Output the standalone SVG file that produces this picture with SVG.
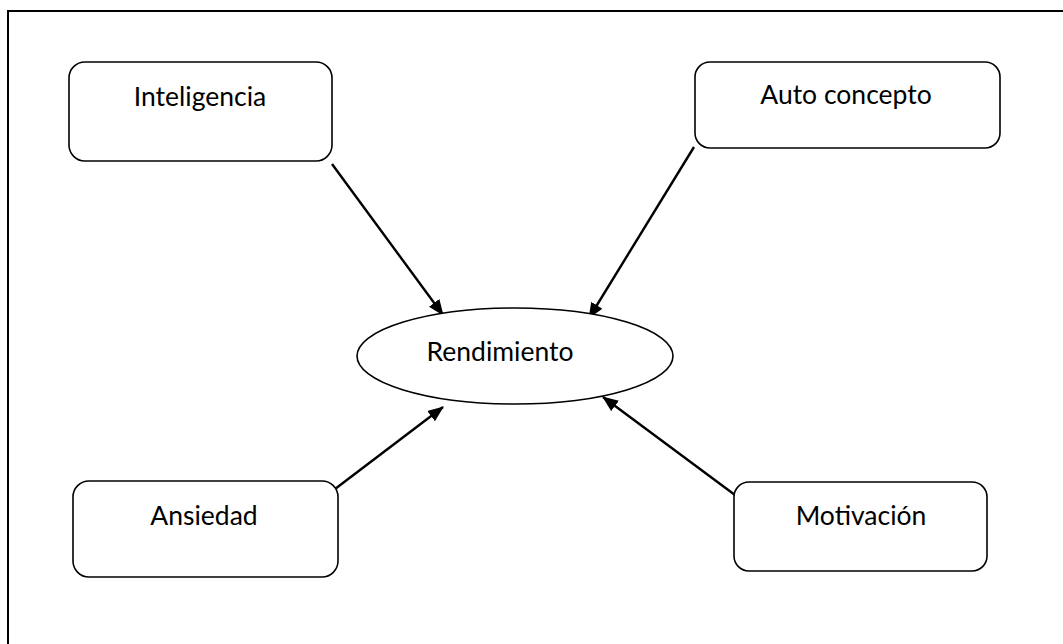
<svg xmlns="http://www.w3.org/2000/svg" width="1063" height="644" viewBox="0 0 1063 644">
<style>
.box{fill:#fff;stroke:#000;stroke-width:1.6}
.lbl{font-family:Lato,"Open Sans",sans-serif;font-size:26.5px;fill:#000;text-anchor:middle}
.conn{stroke:#000;stroke-width:2.4;fill:none;marker-end:url(#ah)}
</style>
<defs>
<marker id="ah" markerWidth="16" markerHeight="13" refX="15" refY="6.5" orient="auto" markerUnits="userSpaceOnUse" viewBox="0 0 16 13">
<path d="M0,0 L16,6.5 L0,13 Z" fill="#000"/>
</marker>
</defs>
<rect width="1063" height="644" fill="#fff"/>
<path d="M8,700 L8,11 L1100,11" fill="none" stroke="#000" stroke-width="2"/>
<g id="connectors">
<line class="conn" x1="332" y1="164" x2="443" y2="315"/>
<line class="conn" x1="694" y1="147" x2="589" y2="318"/>
<line class="conn" x1="335" y1="489" x2="443" y2="407"/>
<line class="conn" x1="735" y1="495" x2="603" y2="397"/>
</g>
<g id="inteligencia">
<rect class="box" x="69" y="62" width="263" height="99" rx="16"/>
<text class="lbl" x="200" y="106">Inteligencia</text>
</g>
<g id="autoconcepto">
<rect class="box" x="695" y="62" width="305" height="86" rx="15"/>
<text class="lbl" x="846" y="104">Auto concepto</text>
</g>
<g id="rendimiento">
<ellipse class="box" cx="515" cy="356" rx="158" ry="48"/>
<text class="lbl" x="500" y="361">Rendimiento</text>
</g>
<g id="ansiedad">
<rect class="box" x="73" y="481" width="265" height="96" rx="16"/>
<text class="lbl" x="204" y="525">Ansiedad</text>
</g>
<g id="motivacion">
<rect class="box" x="734" y="482" width="253" height="89" rx="15"/>
<text class="lbl" x="861" y="525">Motivación</text>
</g>
</svg>
